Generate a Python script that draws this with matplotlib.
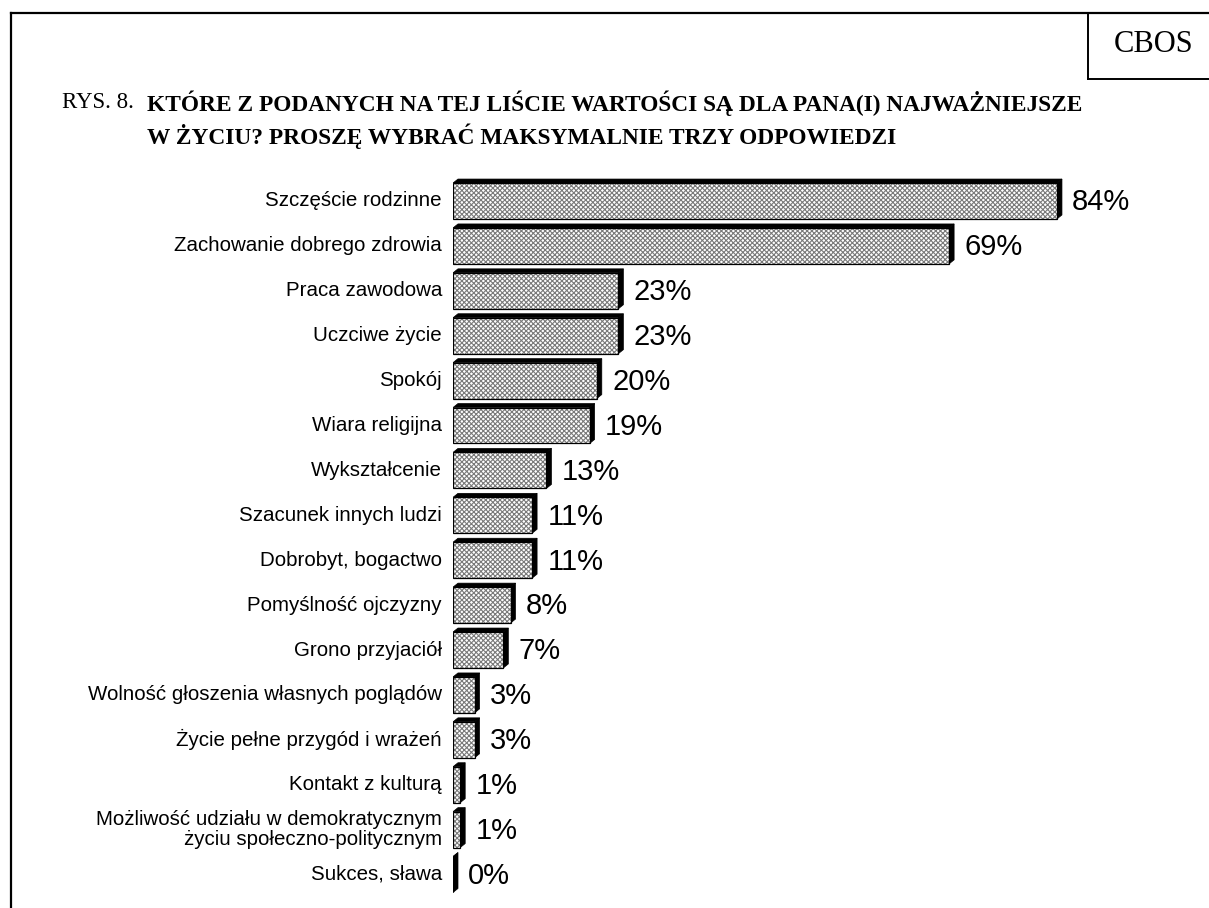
import matplotlib

matplotlib.use("Agg")
import matplotlib.pyplot as plt
from matplotlib.lines import Line2D
from matplotlib.patches import Polygon, Rectangle

LABELS = [
    "Szczęście rodzinne",
    "Zachowanie dobrego zdrowia",
    "Praca zawodowa",
    "Uczciwe życie",
    "Spokój",
    "Wiara religijna",
    "Wykształcenie",
    "Szacunek innych ludzi",
    "Dobrobyt, bogactwo",
    "Pomyślność ojczyzny",
    "Grono przyjaciół",
    "Wolność głoszenia własnych poglądów",
    "Życie pełne przygód i wrażeń",
    "Kontakt z kulturą",
    "Możliwość udziału w demokratycznym\nżyciu społeczno-politycznym",
    "Sukces, sława",
]
VALUES = [84, 69, 23, 23, 20, 19, 13, 11, 11, 8, 7, 3, 3, 1, 1, 0]

TITLE_PREFIX = "RYS. 8."
TITLE_LINES = [
    "KTÓRE Z PODANYCH NA TEJ LIŚCIE WARTOŚCI SĄ DLA PANA(I) NAJWAŻNIEJSZE",
    "W ŻYCIU? PROSZĘ WYBRAĆ MAKSYMALNIE TRZY ODPOWIEDZI",
]

W, H, DPI = 1209, 908, 100
PX_PER_PCT = 7.19
ROW_PX = 44.9
SANS = "Liberation Sans"
SERIF = "Liberation Serif"

plt.rcParams["hatch.linewidth"] = 0.8


def fx(px):
    return px / W


def fy(py):
    return 1 - py / H


fig = plt.figure(figsize=(W / DPI, H / DPI), dpi=DPI)
fig.patch.set_facecolor("white")

# frame and CBOS box
fig.add_artist(Line2D([fx(11), 1.0], [fy(13), fy(13)], color="black", lw=1.6))
fig.add_artist(Line2D([fx(11), fx(11)], [fy(13), 0.0], color="black", lw=1.6))
fig.add_artist(Line2D([fx(1088), fx(1088)], [fy(13), fy(79)], color="black", lw=1.4))
fig.add_artist(Line2D([fx(1088), 1.0], [fy(79), fy(79)], color="black", lw=1.4))
fig.text(fx(1154), fy(45), "CBOS", family=SERIF, fontsize=22, ha="center", va="center")

# title
fig.text(fx(62), fy(103), TITLE_PREFIX, family=SERIF, fontsize=16.5, ha="left", va="center")
fig.text(fx(147), fy(103), TITLE_LINES[0], family=SERIF, fontsize=16.8,
         fontweight="bold", ha="left", va="center")
fig.text(fx(147), fy(136), TITLE_LINES[1], family=SERIF, fontsize=16.8,
         fontweight="bold", ha="left", va="center")

# chart area
ax_left, ax_right, ax_top, ax_bottom = 453, W, 160, 905
ax = fig.add_axes([fx(ax_left), fy(ax_bottom), (ax_right - ax_left) / W,
                   (ax_bottom - ax_top) / H])
ax.set_xlim(0, (ax_right - ax_left) / PX_PER_PCT)
ax.set_ylim((ax_bottom - 201) / ROW_PX, (ax_top - 201) / ROW_PX)
ax.set_axis_off()

depth_x = 5 / PX_PER_PCT
depth_y = 4 / ROW_PX
bar_h = 0.8

for i, (label, value) in enumerate(zip(LABELS, VALUES)):
    top, bottom = i - bar_h / 2, i + bar_h / 2
    # 3d sides (top and right)
    ax.add_patch(Polygon(
        [(0, top), (depth_x, top - depth_y), (value + depth_x, top - depth_y),
         (value, top)],
        closed=True, facecolor="black", edgecolor="black", lw=0.5))
    ax.add_patch(Polygon(
        [(value, top), (value + depth_x, top - depth_y),
         (value + depth_x, bottom - depth_y), (value, bottom)],
        closed=True, facecolor="black", edgecolor="black", lw=0.5))
    # hatched face
    ax.add_patch(Rectangle((0, top), value, bar_h, facecolor="white",
                           edgecolor="#7a7a7a", hatch="xxxxxxx", lw=0))
    ax.add_patch(Rectangle((0, top), value, bar_h, facecolor="none",
                           edgecolor="black", lw=0.9))

    ax.annotate(label, xy=(0, i), xytext=(-8, 0), textcoords="offset points",
                ha="right", va="center", family=SANS, fontsize=14.8,
                linespacing=1.08, annotation_clip=False)
    ax.annotate(f"{value}%", xy=(value, i), xytext=(11, -1),
                textcoords="offset points", ha="left", va="center",
                family=SANS, fontsize=21, annotation_clip=False)

fig.savefig("out.png", dpi=DPI)
